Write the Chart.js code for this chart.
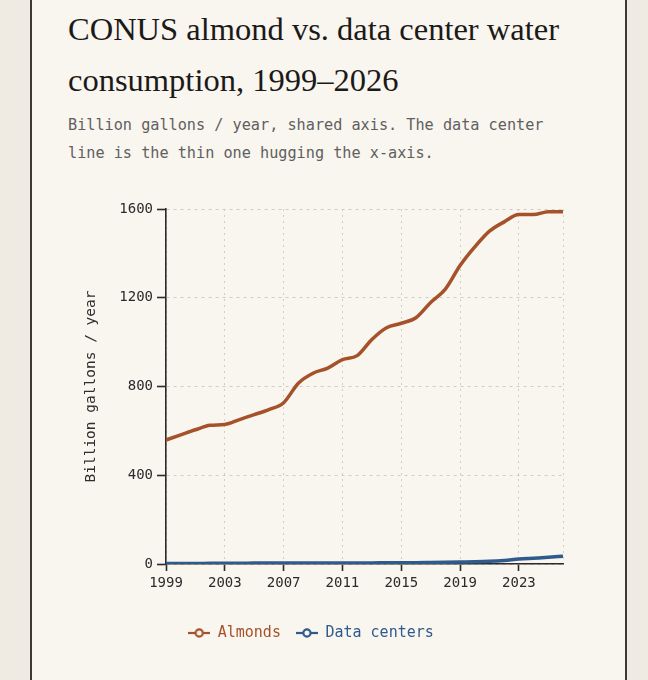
<!DOCTYPE html>
<html>
<head>
<meta charset="utf-8">
<script src="https://cdn.jsdelivr.net/npm/chart.js@4.4.1/dist/chart.umd.min.js"></script>
<style>
  html, body { margin: 0; padding: 0; }
  body { width: 648px; height: 680px; background: #efebe2; position: relative; overflow: hidden; }
  #card { position: absolute; left: 30px; top: -20px; width: 593px; height: 720px; background: #f9f5ef;
          border-left: 2px solid #3d3a35; border-right: 2px solid #3d3a35; }
  #title { position: absolute; left: 68px; top: 4px; margin: 0; font-family: "Liberation Serif", serif;
           font-weight: normal; font-size: 32.5px; line-height: 50.7px; color: #1c1a18; white-space: nowrap; }
  #sub { position: absolute; left: 68px; top: 110.5px; margin: 0; font-family: "DejaVu Sans Mono", monospace;
         font-size: 15.2px; line-height: 28px; color: #5f5f5f; white-space: nowrap; }
  #wrap { position: absolute; left: 59px; top: 180px; width: 566px; height: 500px; }
</style>
</head>
<body>
<div id="card"></div>
<h1 id="title">CONUS almond vs. data center water<br>consumption, 1999–2026</h1>
<p id="sub">Billion gallons / year, shared axis. The data center<br>line is the thin one hugging the x-axis.</p>
<div id="wrap"><canvas id="c"></canvas></div>
<script>
const years = [1999, 2000, 2001, 2002, 2003, 2004, 2005, 2006, 2007, 2008, 2009, 2010, 2011, 2012,
               2013, 2014, 2015, 2016, 2017, 2018, 2019, 2020, 2021, 2022, 2023, 2024, 2025, 2026];
const almonds = [559, 582, 605, 625, 629, 651, 673, 696, 727, 815, 860, 883, 921, 939,
                 1012, 1065, 1085, 1110, 1179, 1239, 1345, 1429, 1500, 1542, 1575, 1575, 1588, 1588];
const dataCenters = [2, 2, 2, 3, 3, 3, 4, 4, 4, 5, 5, 5, 5, 5,
                     5, 6, 6, 6, 7, 8, 9, 10, 12, 16, 22, 26, 30, 35];
const seriesNames = ['Almonds', 'Data centers'];
const xTicks = [1999, 2003, 2007, 2011, 2015, 2019, 2023, 2026];
const xTickLabels = ['1999', '2003', '2007', '2011', '2015', '2019', '2023', ''];
const yTicks = [0, 400, 800, 1200, 1600];
const yTickLabels = ['0', '400', '800', '1200', '1600'];
const yTitle = 'Billion gallons / year';

const almondColor = '#a5522a';
const dcColor = '#2f5a8c';
const mono = 'DejaVu Sans Mono';

function legendIcon(color) {
  const cv = document.createElement('canvas');
  cv.width = 22; cv.height = 12;
  const g = cv.getContext('2d');
  g.strokeStyle = color; g.lineWidth = 2.2;
  g.beginPath(); g.moveTo(0, 6); g.lineTo(22, 6); g.stroke();
  g.fillStyle = '#f9f5ef';
  g.beginPath(); g.arc(11, 6, 3.6, 0, Math.PI * 2); g.fill(); g.stroke();
  return cv;
}

const ctx = document.getElementById('c');
new Chart(ctx, {
  type: 'line',
  data: {
    datasets: [
      { label: seriesNames[0], data: years.map((y, i) => ({ x: y, y: almonds[i] })),
        borderColor: almondColor, backgroundColor: almondColor, borderWidth: 3.5,
        pointRadius: 0, cubicInterpolationMode: 'monotone', fill: false },
      { label: seriesNames[1], data: years.map((y, i) => ({ x: y, y: dataCenters[i] })),
        borderColor: dcColor, backgroundColor: dcColor, borderWidth: 3.5,
        pointRadius: 0, cubicInterpolationMode: 'monotone', fill: false }
    ]
  },
  options: {
    responsive: true,
    maintainAspectRatio: false,
    animation: false,
    layout: { padding: { left: 0, right: 62, top: 29, bottom: 29.5 } },
    scales: {
      x: {
        type: 'linear', min: 1999, max: 2026,
        afterBuildTicks: (s) => { s.ticks = xTicks.map(v => ({ value: v })); },
        afterFit: (s) => { s.height = 46.5; },
        ticks: {
          autoSkip: false, maxRotation: 0, padding: 4, color: '#2b2b2b',
          font: { family: mono, size: 14 },
          callback: (v) => xTickLabels[xTicks.indexOf(v)]
        },
        grid: {
          color: '#d3ccc0', lineWidth: 1, tickLength: 7, tickWidth: 1.6,
          tickColor: (c) => (c.tick && c.tick.value === 2026) ? 'rgba(0,0,0,0)' : '#2b2b2b'
        },
        border: { display: true, color: '#2b2b2b', width: 1.6, dash: [2, 4] }
      },
      y: {
        min: 0, max: 1600,
        afterBuildTicks: (s) => { s.ticks = yTicks.map(v => ({ value: v })); },
        afterFit: (s) => { s.width = 107; },
        ticks: { padding: 4, color: '#2b2b2b', font: { family: mono, size: 14 },
                 callback: (v) => yTickLabels[yTicks.indexOf(v)] },
        grid: { color: '#d3ccc0', lineWidth: 1, tickLength: 9, tickWidth: 1.6, tickColor: '#2b2b2b' },
        border: { display: true, color: '#2b2b2b', width: 1.6, dash: [3, 4] },
        title: { display: true, text: yTitle, color: '#2e2e2e', font: { family: mono, size: 14.5 },
                 padding: { top: 24, bottom: 0 } }
      }
    },
    plugins: {
      legend: {
        position: 'bottom',
        labels: {
          usePointStyle: true, pointStyleWidth: 22, padding: 15,
          font: { family: mono, size: 15 },
          generateLabels: (chart) => chart.data.datasets.map((ds, i) => ({
            text: ds.label, fontColor: ds.borderColor, strokeStyle: ds.borderColor,
            fillStyle: ds.borderColor, lineWidth: 0, pointStyle: legendIcon(ds.borderColor),
            datasetIndex: i, hidden: false
          }))
        }
      },
      tooltip: { enabled: false }
    }
  }
});
</script>
</body>
</html>
